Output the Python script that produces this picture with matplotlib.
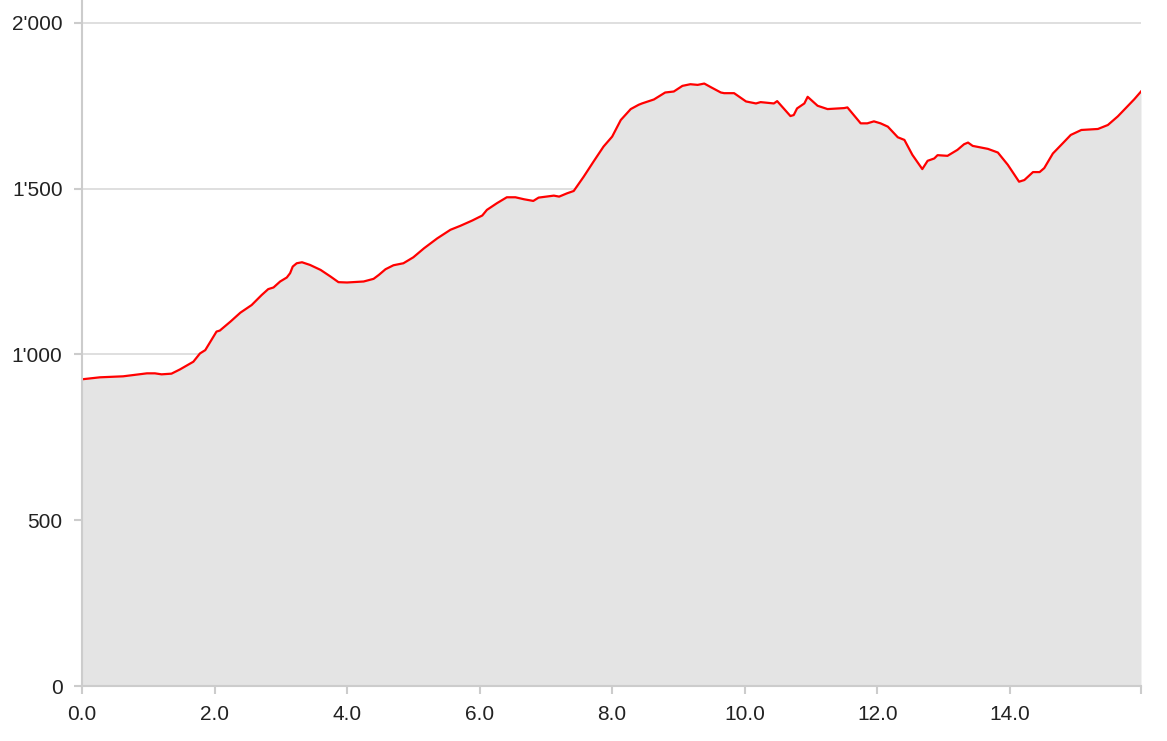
import matplotlib
matplotlib.use("Agg")
import matplotlib.pyplot as plt
from matplotlib.ticker import FuncFormatter, FixedLocator

distance_km = [0.00, 0.27, 0.62, 0.98, 1.10, 1.20, 1.35, 1.48, 1.68, 1.78, 1.86, 2.03, 2.08, 2.24, 2.39,
               2.56, 2.71, 2.81, 2.89, 2.99, 3.09, 3.14, 3.18, 3.24, 3.32, 3.44, 3.60, 3.75, 3.87, 4.00,
               4.25, 4.40, 4.48, 4.58, 4.70, 4.80, 4.85, 5.00, 5.16, 5.36, 5.56, 5.71, 5.89, 6.04, 6.11,
               6.26, 6.41, 6.54, 6.67, 6.81, 6.89, 7.12, 7.20, 7.32, 7.42, 7.57, 7.72, 7.87, 8.00, 8.13,
               8.28, 8.40, 8.45, 8.63, 8.80, 8.93, 9.06, 9.18, 9.29, 9.39, 9.49, 9.64, 9.69, 9.84, 10.02,
               10.17, 10.24, 10.44, 10.49, 10.69, 10.74, 10.79, 10.90, 10.95, 11.10, 11.25, 11.50, 11.55,
               11.75, 11.85, 11.95, 12.05, 12.16, 12.31, 12.41, 12.53, 12.68, 12.76, 12.86, 12.91, 13.06,
               13.21, 13.31, 13.37, 13.44, 13.67, 13.82, 13.97, 14.14, 14.22, 14.35, 14.45, 14.52, 14.65,
               14.80, 14.92, 15.08, 15.33, 15.48, 15.63, 15.76, 15.88, 15.98]

elevation_m = [925, 931, 934, 943, 943, 940, 942, 955, 978, 1003, 1013, 1069, 1072, 1099, 1126,
               1149, 1179, 1197, 1202, 1220, 1232, 1245, 1265, 1275, 1278, 1270, 1255, 1235, 1218, 1217,
               1220, 1228, 1240, 1257, 1269, 1273, 1275, 1293, 1320, 1350, 1376, 1388, 1404, 1419, 1436,
               1456, 1474, 1474, 1468, 1463, 1473, 1479, 1476, 1486, 1493, 1536, 1582, 1627, 1657, 1707,
               1740, 1753, 1757, 1769, 1790, 1793, 1810, 1815, 1813, 1817, 1806, 1790, 1788, 1788, 1763,
               1757, 1761, 1757, 1764, 1719, 1722, 1742, 1757, 1777, 1750, 1740, 1743, 1745,
               1697, 1697, 1703, 1697, 1687, 1655, 1647, 1602, 1559, 1584, 1591, 1601, 1599,
               1617, 1634, 1639, 1629, 1620, 1609, 1572, 1521, 1526, 1550, 1550, 1562, 1606,
               1637, 1662, 1677, 1680, 1692, 1718, 1745, 1770, 1793]

x_ticks = [0, 2, 4, 6, 8, 10, 12, 14]
y_ticks = [0, 500, 1000, 1500, 2000]

plt.rcParams['font.family'] = ['Liberation Sans', 'DejaVu Sans']

W, H = 1167, 741
fig = plt.figure(figsize=(W / 100, H / 100), dpi=100)
left, right, bottom, top = 82 / W, 1141 / W, (H - 686) / H, 1.0
ax = fig.add_axes([left, bottom, right - left, top - bottom])

ax.fill_between(distance_km, elevation_m, 0, color='#e4e4e4', linewidth=0, zorder=1)
ax.plot(distance_km, elevation_m, color='#ff0000', linewidth=1.6, zorder=3)

ax.set_xlim(0, distance_km[-1])
ax.set_ylim(0, 2069)

ax.xaxis.set_major_locator(FixedLocator(x_ticks))
ax.xaxis.set_minor_locator(FixedLocator([distance_km[-1]]))
ax.yaxis.set_major_locator(FixedLocator(y_ticks))
ax.xaxis.set_major_formatter(FuncFormatter(lambda v, p: f"{v:.1f}"))
ax.yaxis.set_major_formatter(FuncFormatter(lambda v, p: f"{int(v):,}".replace(",", "'")))

ax.grid(axis='y', color='#d9d9d9', linewidth=1.2, zorder=0)
ax.set_axisbelow(True)

for s in ['top', 'right']:
    ax.spines[s].set_visible(False)
for s in ['left', 'bottom']:
    ax.spines[s].set_color('#cccccc')
    ax.spines[s].set_linewidth(1.5)
    ax.spines[s].set_zorder(4)

ax.tick_params(axis='both', which='both', length=6, width=1.5, color='#cccccc',
               labelsize=15, labelcolor='#222222')
ax.tick_params(axis='x', which='minor', length=6, width=1.5, color='#cccccc')
ax.tick_params(axis='y', pad=8)
ax.tick_params(axis='x', pad=8)

fig.savefig('out.png', dpi=100)
